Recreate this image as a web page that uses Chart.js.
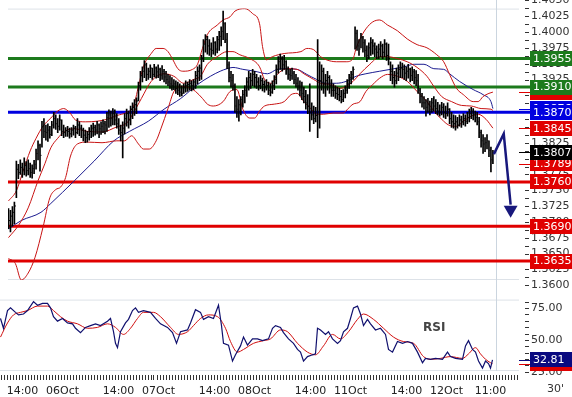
<!DOCTYPE html>
<html>
<head>
<meta charset="utf-8">
<script src="https://cdn.jsdelivr.net/npm/chart.js@4.4.1/dist/chart.umd.min.js"></script>
<style>
  body { margin: 0; background: #fff; }
  #wrap { position: relative; width: 572px; height: 397px; overflow: hidden; font-family: "DejaVu Sans", sans-serif; }
  canvas { position: absolute; left: 0; }
  #price-chart { top: 0; }
  #rsi-chart { top: 291px; }
  .note { position: absolute; color: #333; line-height: 12px; }
</style>
</head>
<body>
<div id="wrap">
  <canvas id="price-chart" width="572" height="291"></canvas>
  <canvas id="rsi-chart" width="572" height="106"></canvas>
  <div class="note" style="left:423px;top:321px;font-weight:bold;font-size:12px;color:#444">RSI</div>
  <div class="note" style="left:547px;top:383px;font-size:11px">30'</div>
</div>
<script>
// 30 minute bars, 05Oct 08:00 .. 12Oct 11:00 (bar index 0..246)
const barHigh = [
  1.3718, 1.3715, 1.3721, 1.3728, 1.3793, 1.3788, 1.3795, 1.3790, 1.3798, 1.3792,
  1.3795, 1.3790, 1.3787, 1.3794, 1.3812, 1.3825, 1.3820, 1.3856, 1.3860, 1.3850,
  1.3852, 1.3848, 1.3856, 1.3870, 1.3866, 1.3860, 1.3866, 1.3858, 1.3850, 1.3846,
  1.3848, 1.3845, 1.3846, 1.3850, 1.3848, 1.3860, 1.3855, 1.3850, 1.3845, 1.3842,
  1.3840, 1.3846, 1.3850, 1.3853, 1.3850, 1.3856, 1.3852, 1.3855, 1.3858, 1.3856,
  1.3870, 1.3874, 1.3872, 1.3876, 1.3874, 1.3868, 1.3860, 1.3850, 1.3855, 1.3868,
  1.3875, 1.3872, 1.3880, 1.3885, 1.3890, 1.3893, 1.3918, 1.3935, 1.3942, 1.3952,
  1.3948, 1.3940, 1.3945, 1.3940, 1.3946, 1.3942, 1.3945, 1.3940, 1.3944, 1.3938,
  1.3935, 1.3930, 1.3928, 1.3925, 1.3922, 1.3920, 1.3918, 1.3915, 1.3912, 1.3915,
  1.3920, 1.3918, 1.3922, 1.3920, 1.3922, 1.3935, 1.3942, 1.3945, 1.3960, 1.3985,
  1.3993, 1.3990, 1.3985, 1.3980, 1.3988, 1.3982, 1.3990, 1.3998, 1.4005, 1.4030,
  1.4012, 1.3995, 1.3950, 1.3935, 1.3930, 1.3915, 1.3895, 1.3890, 1.3895, 1.3905,
  1.3912, 1.3925, 1.3935, 1.3932, 1.3938, 1.3935, 1.3930, 1.3925, 1.3928, 1.3924,
  1.3920, 1.3922, 1.3918, 1.3915, 1.3920, 1.3928, 1.3945, 1.3958, 1.3962, 1.3958,
  1.3960, 1.3952, 1.3942, 1.3938, 1.3940, 1.3935, 1.3930, 1.3925, 1.3920, 1.3918,
  1.3910, 1.3905, 1.3898, 1.3915, 1.3885, 1.3880, 1.3878, 1.3985, 1.3950, 1.3945,
  1.3940, 1.3930, 1.3935, 1.3928, 1.3922, 1.3915, 1.3912, 1.3910, 1.3908, 1.3905,
  1.3906, 1.3912, 1.3922, 1.3930, 1.3935, 1.3942, 1.4005, 1.4000, 1.3985, 1.3995,
  1.3990, 1.3985, 1.3975, 1.3980, 1.3988, 1.3985, 1.3980, 1.3975, 1.3978, 1.3982,
  1.3978, 1.3985, 1.3980, 1.3978, 1.3950, 1.3945, 1.3935, 1.3940, 1.3945, 1.3950,
  1.3948, 1.3945, 1.3942, 1.3946, 1.3940, 1.3942, 1.3938, 1.3936, 1.3930, 1.3908,
  1.3900, 1.3895, 1.3890, 1.3892, 1.3888, 1.3892, 1.3895, 1.3890, 1.3886, 1.3882,
  1.3886, 1.3884, 1.3880, 1.3885, 1.3876, 1.3870, 1.3866, 1.3865, 1.3862, 1.3866,
  1.3864, 1.3868, 1.3866, 1.3870, 1.3875, 1.3878, 1.3876, 1.3872, 1.3870, 1.3862,
  1.3842, 1.3835, 1.3830, 1.3835, 1.3825, 1.3815, 1.3810
];
const barLow = [
  1.3686, 1.3681, 1.3690, 1.3694, 1.3735, 1.3765, 1.3772, 1.3767, 1.3771, 1.3769,
  1.3771, 1.3767, 1.3766, 1.3773, 1.3780, 1.3795, 1.3777, 1.3815, 1.3830, 1.3826,
  1.3824, 1.3829, 1.3833, 1.3845, 1.3843, 1.3838, 1.3842, 1.3833, 1.3830, 1.3832,
  1.3832, 1.3829, 1.3831, 1.3834, 1.3830, 1.3836, 1.3833, 1.3830, 1.3825, 1.3822,
  1.3823, 1.3826, 1.3830, 1.3832, 1.3834, 1.3836, 1.3830, 1.3835, 1.3838, 1.3836,
  1.3840, 1.3846, 1.3848, 1.3850, 1.3850, 1.3845, 1.3835, 1.3825, 1.3798, 1.3836,
  1.3848, 1.3845, 1.3850, 1.3860, 1.3865, 1.3868, 1.3888, 1.3905, 1.3918, 1.3925,
  1.3920, 1.3922, 1.3925, 1.3922, 1.3926, 1.3924, 1.3925, 1.3920, 1.3922, 1.3918,
  1.3915, 1.3912, 1.3908, 1.3905, 1.3906, 1.3900, 1.3898, 1.3895, 1.3896, 1.3900,
  1.3902, 1.3903, 1.3905, 1.3904, 1.3906, 1.3908, 1.3915, 1.3920, 1.3922, 1.3950,
  1.3965, 1.3962, 1.3960, 1.3958, 1.3962, 1.3960, 1.3964, 1.3968, 1.3975, 1.3985,
  1.3980, 1.3939, 1.3918, 1.3910, 1.3905, 1.3870, 1.3862, 1.3856, 1.3866, 1.3878,
  1.3885, 1.3895, 1.3905, 1.3908, 1.3912, 1.3910, 1.3908, 1.3905, 1.3907, 1.3904,
  1.3902, 1.3905, 1.3898, 1.3896, 1.3900, 1.3906, 1.3915, 1.3932, 1.3938, 1.3935,
  1.3938, 1.3930, 1.3922, 1.3920, 1.3922, 1.3915, 1.3910, 1.3905, 1.3896, 1.3890,
  1.3885, 1.3875, 1.3868, 1.3840, 1.3858, 1.3852, 1.3855, 1.3830, 1.3845, 1.3905,
  1.3900, 1.3895, 1.3905, 1.3900, 1.3895, 1.3895, 1.3892, 1.3890, 1.3888, 1.3885,
  1.3887, 1.3893, 1.3900, 1.3908, 1.3915, 1.3922, 1.3970, 1.3968, 1.3960, 1.3972,
  1.3965, 1.3958, 1.3950, 1.3955, 1.3960, 1.3962, 1.3958, 1.3955, 1.3955, 1.3958,
  1.3955, 1.3958, 1.3952, 1.3945, 1.3920, 1.3915, 1.3910, 1.3915, 1.3920, 1.3925,
  1.3925, 1.3922, 1.3920, 1.3924, 1.3918, 1.3920, 1.3915, 1.3912, 1.3900, 1.3885,
  1.3878, 1.3875, 1.3864, 1.3870, 1.3866, 1.3870, 1.3872, 1.3868, 1.3866, 1.3864,
  1.3866, 1.3862, 1.3860, 1.3864, 1.3852, 1.3846, 1.3845, 1.3842, 1.3845, 1.3848,
  1.3846, 1.3850, 1.3848, 1.3852, 1.3855, 1.3860, 1.3858, 1.3855, 1.3850, 1.3830,
  1.3815, 1.3805, 1.3808, 1.3812, 1.3800, 1.3776, 1.3789
];
const barClose = [
  1.3699, 1.3706, 1.3712, 1.3722, 1.3780, 1.3775, 1.3783, 1.3779, 1.3786, 1.3778,
  1.3781, 1.3775, 1.3781, 1.3788, 1.3805, 1.3818, 1.3802, 1.3848, 1.3840, 1.3838,
  1.3842, 1.3835, 1.3850, 1.3860, 1.3852, 1.3848, 1.3858, 1.3840, 1.3838, 1.3841,
  1.3840, 1.3836, 1.3842, 1.3845, 1.3838, 1.3850, 1.3845, 1.3842, 1.3834, 1.3830,
  1.3835, 1.3840, 1.3845, 1.3846, 1.3842, 1.3850, 1.3844, 1.3848, 1.3852, 1.3850,
  1.3862, 1.3866, 1.3860, 1.3868, 1.3858, 1.3852, 1.3842, 1.3838, 1.3845, 1.3860,
  1.3868, 1.3858, 1.3875, 1.3878, 1.3882, 1.3888, 1.3912, 1.3928, 1.3935, 1.3945,
  1.3930, 1.3935, 1.3940, 1.3930, 1.3940, 1.3934, 1.3938, 1.3928, 1.3935, 1.3926,
  1.3922, 1.3918, 1.3915, 1.3912, 1.3915, 1.3908, 1.3905, 1.3902, 1.3900, 1.3910,
  1.3912, 1.3914, 1.3916, 1.3912, 1.3918, 1.3928, 1.3935, 1.3940, 1.3955, 1.3978,
  1.3985, 1.3975, 1.3970, 1.3968, 1.3980, 1.3970, 1.3985, 1.3990, 1.3998, 1.4010,
  1.3985, 1.3945, 1.3925, 1.3920, 1.3912, 1.3880, 1.3875, 1.3882, 1.3890, 1.3898,
  1.3905, 1.3918, 1.3925, 1.3920, 1.3930, 1.3925, 1.3918, 1.3912, 1.3920, 1.3914,
  1.3910, 1.3912, 1.3905, 1.3902, 1.3912, 1.3922, 1.3938, 1.3950, 1.3955, 1.3945,
  1.3950, 1.3938, 1.3930, 1.3928, 1.3932, 1.3922, 1.3916, 1.3912, 1.3905, 1.3900,
  1.3895, 1.3885, 1.3880, 1.3870, 1.3866, 1.3860, 1.3865, 1.3920, 1.3920, 1.3935,
  1.3915, 1.3920, 1.3925, 1.3912, 1.3905, 1.3905, 1.3900, 1.3898, 1.3895, 1.3890,
  1.3900, 1.3905, 1.3915, 1.3925, 1.3930, 1.3938, 1.3995, 1.3975, 1.3970, 1.3988,
  1.3980, 1.3968, 1.3960, 1.3972, 1.3980, 1.3975, 1.3970, 1.3965, 1.3970, 1.3975,
  1.3965, 1.3978, 1.3960, 1.3955, 1.3935, 1.3925, 1.3920, 1.3932, 1.3938, 1.3940,
  1.3938, 1.3932, 1.3935, 1.3938, 1.3928, 1.3934, 1.3925, 1.3920, 1.3905, 1.3895,
  1.3885, 1.3885, 1.3878, 1.3882, 1.3875, 1.3885, 1.3880, 1.3876, 1.3872, 1.3870,
  1.3878, 1.3870, 1.3868, 1.3875, 1.3860, 1.3855, 1.3852, 1.3855, 1.3850, 1.3858,
  1.3855, 1.3860, 1.3856, 1.3862, 1.3868, 1.3872, 1.3866, 1.3862, 1.3855, 1.3838,
  1.3825, 1.3820, 1.3822, 1.3825, 1.3810, 1.3795, 1.3807
];

// Bollinger bands and moving average, read at the bars where they bend
const bbUpperBars = [0, 4, 7.5, 11, 14, 17.5, 21.5, 25, 28, 31, 34, 39, 45, 50, 55, 60, 63.5, 66, 68.5, 72.5,
  75, 78.5, 81, 83.5, 86, 88.5, 93.5, 96, 98.5, 101, 106, 109, 112.5, 115, 120, 124, 127.5, 129, 131, 134,
  140, 148.5, 151.5, 155, 158.5, 161.5, 166.5, 171.5, 175, 176.5, 178.5, 181.5, 185, 188.5, 192.5, 197.5, 202.5, 207.5, 212.5, 217.5,
  221, 224, 227.5, 231, 236, 238.5, 241, 244, 246];
const bbUpper = [1.3730, 1.3746, 1.3778, 1.3809, 1.3829, 1.3848, 1.3861, 1.3872, 1.3876, 1.3870, 1.3858, 1.3855, 1.3856, 1.3859, 1.3865, 1.3870, 1.3880, 1.3911, 1.3942, 1.3963,
  1.3971, 1.3971, 1.3966, 1.3953, 1.3939, 1.3935, 1.3938, 1.3946, 1.3971, 1.3993, 1.4008, 1.4016, 1.4021, 1.4030, 1.4034, 1.4026, 1.4010, 1.3974, 1.3953, 1.3958,
  1.3963, 1.3966, 1.3971, 1.3969, 1.3958, 1.3953, 1.3950, 1.3950, 1.3955, 1.3971, 1.3986, 1.4002, 1.4013, 1.4016, 1.4008, 1.3999, 1.3986, 1.3977, 1.3972, 1.3961,
  1.3950, 1.3930, 1.3908, 1.3898, 1.3887, 1.3887, 1.3895, 1.3900, 1.3902];

const bbMiddleBars = [0, 5, 10, 15, 18.5, 21.5, 25, 28.5, 33.5, 40, 47.5, 55, 60, 62.5, 67.5, 72.5, 79, 84, 89, 94,
  97.5, 101, 106, 111, 114, 117.5, 122.5, 127.5, 130, 133.5, 136.5, 141.5, 146.5, 150, 155, 158.5, 163.5, 168.5, 171.5, 175,
  178.5, 183.5, 188.5, 192.5, 197.5, 202.5, 207.5, 212.5, 216, 220, 225, 230, 235, 240, 245, 246];
const bbMiddle = [1.3672, 1.3691, 1.3719, 1.3762, 1.3789, 1.3814, 1.3829, 1.3840, 1.3844, 1.3840, 1.3839, 1.3847, 1.3853, 1.3864, 1.3892, 1.3919, 1.3931, 1.3927, 1.3916, 1.3922,
  1.3927, 1.3946, 1.3958, 1.3966, 1.3966, 1.3961, 1.3955, 1.3942, 1.3922, 1.3916, 1.3930, 1.3939, 1.3938, 1.3931, 1.3922, 1.3916, 1.3914, 1.3908, 1.3911, 1.3919,
  1.3931, 1.3946, 1.3958, 1.3958, 1.3955, 1.3950, 1.3941, 1.3927, 1.3911, 1.3895, 1.3887, 1.3881, 1.3880, 1.3876, 1.3875, 1.3873];

const bbLowerBars = [0, 3.5, 6.5, 10, 13.5, 17.5, 21, 24, 26.5, 29, 31.5, 35, 40, 47.5, 55, 59, 62.5, 66, 68.5, 71.5,
  75, 77.5, 81, 84, 87.5, 92.5, 95, 98.5, 101, 104, 109, 112.5, 116, 119, 122.5, 125, 127.5, 130, 135, 140,
  143.5, 146.5, 150, 153.5, 156.5, 160, 165, 170, 172.5, 175, 178.5, 181.5, 185, 188.5, 192.5, 197.5, 202.5, 207.5, 212.5, 216,
  220, 223.5, 227.5, 231, 235, 238.5, 242.5, 246];
const bbLower = [1.3639, 1.3631, 1.3605, 1.3616, 1.3641, 1.3688, 1.3735, 1.3748, 1.3752, 1.3767, 1.3801, 1.3820, 1.3823, 1.3822, 1.3825, 1.3825, 1.3833, 1.3820, 1.3812, 1.3812,
  1.3825, 1.3845, 1.3876, 1.3903, 1.3911, 1.3908, 1.3903, 1.3892, 1.3883, 1.3880, 1.3887, 1.3903, 1.3906, 1.3875, 1.3861, 1.3861, 1.3872, 1.3880, 1.3883, 1.3887,
  1.3898, 1.3900, 1.3887, 1.3876, 1.3867, 1.3867, 1.3869, 1.3869, 1.3876, 1.3883, 1.3887, 1.3903, 1.3914, 1.3924, 1.3930, 1.3927, 1.3919, 1.3903, 1.3887, 1.3872,
  1.3859, 1.3850, 1.3848, 1.3856, 1.3864, 1.3867, 1.3859, 1.3845];

const maBars = [0, 6.5, 16.5, 21.5, 33.5, 43.5, 53.5, 61.5, 71, 79, 87.5, 96, 102.5, 107.5, 111, 114, 119, 125, 131.5, 136.5,
  141.5, 146.5, 151.5, 156.5, 161.5, 166.5, 171.5, 176.5, 181.5, 188.5, 194, 201, 206, 211, 216, 221, 224, 229, 236, 241, 245, 246];
const maValues = [1.3686, 1.3699, 1.3712, 1.3726, 1.3762, 1.3793, 1.3825, 1.3840, 1.3856, 1.3875, 1.3892, 1.3914, 1.3927, 1.3935, 1.3939, 1.3941, 1.3938, 1.3935, 1.3931, 1.3938,
  1.3939, 1.3938, 1.3930, 1.3922, 1.3916, 1.3916, 1.3919, 1.3927, 1.3931, 1.3935, 1.3938, 1.3942, 1.3946, 1.3946, 1.3939, 1.3938, 1.3931, 1.3919, 1.3906, 1.3898, 1.3887, 1.3876];

// RSI and its average
const rsiBars = [0, 1.5, 3.5, 5, 7.5, 9, 11.5, 13.5, 16.5, 18.5, 21, 23.5, 25, 26.5, 28.5, 31, 33.5, 36, 37.5, 40,
  42.5, 45, 47.5, 50, 53.5, 55, 56.5, 57.5, 58.5, 60, 62.5, 64, 66, 67.5, 69, 71.5, 75, 77.5, 80, 83.5,
  86, 88, 90, 93.5, 95, 97.5, 100, 101.5, 104, 106.5, 109, 110.5, 111.5, 114, 116, 117.5, 120, 121.5, 123.5, 126,
  128.5, 131, 134, 136, 137.5, 140, 141.5, 144, 146.5, 148.5, 150, 151.5, 153.5, 156, 157.5, 158.5, 160, 162.5, 164, 166,
  168.5, 170, 171.5, 173.5, 175, 176.5, 178.5, 180, 181.5, 183.5, 185, 187.5, 190, 192.5, 194, 196, 198.5, 201, 203.5, 206,
  208.5, 211, 212.5, 215, 217.5, 221, 223.5, 225, 227.5, 231, 232.5, 234, 236, 237.5, 239, 241, 242.5, 244, 245, 246];
const rsiValues = [65.3, 57.6, 71.5, 73.6, 70.1, 68.1, 68.8, 71.5, 78.5, 75.7, 77.1, 77.1, 73.6, 66.7, 63.2, 65.3, 61.8, 61.1, 57.6, 54.2,
  58.3, 59.7, 61.1, 59.7, 63.2, 65.3, 54.9, 45.8, 42.4, 54.9, 61.8, 64.6, 71.5, 73.6, 70.1, 71.5, 70.1, 65.3, 61.1, 58.3,
  54.2, 45.8, 54.9, 56.3, 61.8, 72.2, 70.1, 64.6, 66.7, 65.3, 75.7, 59.7, 45.8, 44.4, 31.9, 36.8, 43.8, 50.7, 44.4, 49.3,
  49.3, 47.9, 49.3, 57.6, 59.7, 58.3, 54.2, 49.3, 45.8, 41.0, 38.9, 31.9, 35.4, 36.8, 37.5, 57.6, 56.3, 52.8, 54.9, 49.3,
  45.8, 47.9, 54.9, 57.6, 65.3, 73.6, 75.0, 68.8, 59.7, 64.6, 61.1, 56.3, 57.6, 52.8, 41.0, 38.9, 47.2, 45.8, 47.2, 45.8,
  38.9, 30.6, 34.0, 33.3, 34.0, 33.3, 38.9, 35.4, 34.0, 33.3, 43.8, 47.9, 41.0, 38.9, 31.9, 26.4, 31.9, 29.9, 26.4, 32.81];

const rsiAvgBars = [0, 3.5, 6.5, 10, 13.5, 18.5, 23.5, 26.5, 30, 33.5, 38.5, 43.5, 48.5, 53.5, 57.5, 61.5, 65, 68.5, 71.5, 76.5,
  80, 85, 89, 93.5, 96.5, 100, 104, 108.5, 112.5, 115, 118.5, 121.5, 126.5, 131.5, 135, 140, 143.5, 148.5, 153.5, 157.5,
  161.5, 166, 170, 174, 178.5, 181.5, 186.5, 191.5, 196.5, 201.5, 206.5, 211.5, 215, 220, 225, 231, 234, 237.5, 240, 242.5, 245, 246];
const rsiAvg = [50.7, 61.8, 68.1, 70.1, 71.5, 75.0, 75.0, 71.5, 66.7, 63.2, 61.1, 57.6, 58.3, 61.1, 58.3, 52.8, 57.6, 65.3, 70.1, 70.1,
  66.7, 58.3, 52.8, 54.9, 59.7, 65.3, 68.1, 66.7, 57.6, 47.2, 38.9, 41.0, 45.8, 47.9, 49.3, 56.3, 54.9, 45.8, 38.9, 36.8,
  43.8, 52.8, 49.3, 54.9, 64.6, 68.8, 64.6, 57.6, 50.7, 47.2, 45.8, 35.4, 33.3, 34.0, 35.4, 34.0, 37.5, 42.4, 37.5, 33.3, 30.6, 29.8];

// support / resistance levels and the value tags on the right
const levelValues = [1.3955, 1.3910, 1.3870, 1.3760, 1.3690, 1.3635];
const levelColors = ["#1c7a1c", "#1c7a1c", "#0000e0", "#e00000", "#e00000", "#e00000"];
const tagValues = [1.3902, 1.3876, 1.3845, 1.3789, 1.3807];
const tagColors = ["#e00000", "#0000e0", "#e00000", "#e00000", "#000000"];
const rsiTagValues = [29.80, 32.81];
const rsiTagColors = ["#e00000", "#0a0a80"];

// forecast arrow
const arrowBars = [246.5, 251.5, 255];
const arrowPrices = [1.3804, 1.3836, 1.3724];
const arrowHead = { bar: 255, price: 1.3716 };

const timeLabels = ["14:00", "06Oct", "14:00", "07Oct", "14:00", "08Oct", "14:00", "11Oct", "14:00", "12Oct", "11:00"];
const timeLabelBars = [12, 32, 60, 80, 108, 128, 156, 176, 204, 224, 246];
const cursorBar = 247.5;

const xMin = -0.25, xMax = 259.25;
const priceMin = 1.3605, priceMax = 1.4034;
const rsiMin = 24.1, rsiMax = 80.1;

Chart.defaults.font.family = '"DejaVu Sans", sans-serif';
Chart.defaults.font.size = 11;
Chart.defaults.color = "#333";

const pts = (xs, ys) => xs.map((x, i) => ({ x: x, y: ys[i] }));

const priceTicks = [];
for (let k = 0; k <= 36; k++) priceTicks.push(1.36 + k * 0.00125);
const rsiTicks = [];
for (let v = 25; v <= 80; v += 5) rsiTicks.push(v);
const minorBarTicks = [];
for (let b = 0; b <= 258; b += 1.5) minorBarTicks.push(b);

const labelShift = 2;

function drawFrame(chart, cursorBottom) {
  const { ctx, chartArea: a } = chart;
  ctx.save();
  ctx.lineWidth = 1;
  ctx.strokeStyle = "#dde2e8";
  ctx.beginPath();
  ctx.moveTo(a.left, a.top + 0.5);
  ctx.lineTo(a.right, a.top + 0.5);
  ctx.moveTo(a.left, a.bottom - 0.5);
  ctx.lineTo(a.right, a.bottom - 0.5);
  ctx.stroke();
  const cx = Math.round(chart.scales.x.getPixelForValue(cursorBar)) + 0.5;
  ctx.strokeStyle = "#cbd5df";
  ctx.beginPath();
  ctx.moveTo(cx, 0);
  ctx.lineTo(cx, cursorBottom);
  ctx.stroke();
  ctx.restore();
}

// small dashes left of the right-hand labels
function drawAxisDashes(chart, values) {
  const { ctx, chartArea: a } = chart;
  ctx.save();
  ctx.strokeStyle = "#333";
  ctx.lineWidth = 1;
  ctx.beginPath();
  values.forEach(v => {
    const y = Math.round(chart.scales.y.getPixelForValue(v) + labelShift) + 0.5;
    ctx.moveTo(a.right + 6, y);
    ctx.lineTo(a.right + 10, y);
  });
  ctx.stroke();
  ctx.restore();
}

function drawTag(chart, value, color, text) {
  const { ctx, chartArea: a } = chart;
  const y = chart.scales.y.getPixelForValue(value);
  const boxLeft = a.right + 11;
  ctx.save();
  ctx.fillStyle = color;
  ctx.fillRect(a.right, Math.round(y), 11, 1);
  ctx.fillRect(boxLeft, Math.round(y - 7.5), chart.width - boxLeft, 15);
  ctx.fillStyle = "#fff";
  ctx.font = '11px "DejaVu Sans"';
  ctx.textBaseline = "middle";
  ctx.fillText(text, boxLeft + 3, y + 0.5);
  ctx.restore();
}

const pricePlugin = {
  id: "priceDecor",
  beforeDatasetsDraw(chart) {
    drawFrame(chart, chart.height);
    drawAxisDashes(chart, priceTicks);
    const { ctx, chartArea: a } = chart;
    ctx.save();
    ctx.lineWidth = 3;
    levelValues.forEach((v, k) => {
      const y = chart.scales.y.getPixelForValue(v);
      ctx.strokeStyle = levelColors[k];
      ctx.beginPath();
      ctx.moveTo(a.left, y);
      ctx.lineTo(a.right + 11, y);
      ctx.stroke();
    });
    ctx.restore();
  },
  afterDraw(chart) {
    tagValues.forEach((v, k) => drawTag(chart, v, tagColors[k], v.toFixed(4)));
    levelValues.forEach((v, k) => drawTag(chart, v, levelColors[k], v.toFixed(4)));
  }
};

const rsiPlugin = {
  id: "rsiDecor",
  beforeDatasetsDraw(chart) {
    drawFrame(chart, chart.chartArea.bottom);
    drawAxisDashes(chart, rsiTicks);
    const { ctx, chartArea: a } = chart;
    ctx.save();
    ctx.strokeStyle = "#333";
    ctx.lineWidth = 1;
    ctx.beginPath();
    minorBarTicks.forEach(b => {
      const x = Math.round(chart.scales.x.getPixelForValue(b)) + 0.5;
      ctx.moveTo(x, a.bottom + 4);
      ctx.lineTo(x, a.bottom + 9);
    });
    ctx.stroke();
    ctx.restore();
  },
  afterDraw(chart) {
    rsiTagValues.forEach((v, k) => drawTag(chart, v, rsiTagColors[k], v.toFixed(2)));
  }
};

// tick marks are left transparent: their length only sets the label gap
const rightAxis = (min, max, tickList, label) => ({
  position: "right",
  min: min,
  max: max,
  afterFit: s => { s.width = 53; },
  afterBuildTicks: s => { s.ticks = tickList.map(v => ({ value: v })); },
  border: { display: false },
  grid: { drawOnChartArea: false, drawTicks: true, tickLength: 10, tickColor: "rgba(0,0,0,0)" },
  ticks: { autoSkip: false, padding: 2, labelOffset: labelShift, color: "#333", callback: label }
});

new Chart(document.getElementById("price-chart"), {
  type: "line",
  data: {
    datasets: [
      {
        data: [{ x: arrowHead.bar, y: arrowHead.price }],
        showLine: false,
        pointStyle: "triangle",
        pointRotation: 180,
        pointRadius: 8,
        pointBackgroundColor: "#18187c",
        pointBorderWidth: 0
      },
      {
        data: pts(arrowBars, arrowPrices),
        borderColor: "#18187c",
        borderWidth: 2.5,
        pointRadius: 0
      },
      {
        // close tick on the right of each bar
        data: barClose.map((c, i) => ({ x: i + 0.5, y: c })),
        showLine: false,
        pointStyle: "line",
        pointRadius: 0.5,
        pointBorderColor: "#000",
        pointBorderWidth: 1
      },
      {
        type: "bar",
        data: barHigh.map((h, i) => ({ x: i, y: [barLow[i], h] })),
        backgroundColor: "#000",
        borderWidth: 0,
        barThickness: 1
      },
      { data: pts(bbUpperBars, bbUpper), borderColor: "#c81414", borderWidth: 1, pointRadius: 0, cubicInterpolationMode: "monotone" },
      { data: pts(bbMiddleBars, bbMiddle), borderColor: "#c81414", borderWidth: 1, pointRadius: 0, cubicInterpolationMode: "monotone" },
      { data: pts(bbLowerBars, bbLower), borderColor: "#c81414", borderWidth: 1, pointRadius: 0, cubicInterpolationMode: "monotone" },
      { data: pts(maBars, maValues), borderColor: "#1c1c90", borderWidth: 1, pointRadius: 0, cubicInterpolationMode: "monotone" }
    ]
  },
  options: {
    responsive: false,
    devicePixelRatio: 1,
    animation: false,
    events: [],
    layout: { padding: { top: 7, bottom: 11, left: 0, right: 0 } },
    plugins: { legend: { display: false }, tooltip: { enabled: false } },
    scales: {
      x: { type: "linear", min: xMin, max: xMax, offset: false, display: false },
      y: rightAxis(priceMin, priceMax, priceTicks,
        v => (Math.round(v * 10000) % 25 === 0 ? v.toFixed(4) : ""))
    }
  },
  plugins: [pricePlugin]
});

new Chart(document.getElementById("rsi-chart"), {
  type: "line",
  data: {
    datasets: [
      { data: pts(rsiBars, rsiValues), borderColor: "#10106e", borderWidth: 1.2, pointRadius: 0, tension: 0 },
      { data: pts(rsiAvgBars, rsiAvg), borderColor: "#d01010", borderWidth: 1, pointRadius: 0, cubicInterpolationMode: "monotone" }
    ]
  },
  options: {
    responsive: false,
    devicePixelRatio: 1,
    animation: false,
    events: [],
    layout: { padding: 0 },
    plugins: { legend: { display: false }, tooltip: { enabled: false } },
    scales: {
      x: {
        type: "linear", position: "bottom", min: xMin, max: xMax, offset: false,
        afterFit: s => { s.height = 26; },
        afterBuildTicks: s => { s.ticks = timeLabelBars.map(v => ({ value: v })); },
        border: { display: false },
        grid: { drawOnChartArea: false, drawTicks: true, tickLength: 12, tickColor: "rgba(0,0,0,0)" },
        ticks: { autoSkip: false, maxRotation: 0, padding: 2, labelOffset: -2, color: "#222",
          callback: (v, i) => timeLabels[i] }
      },
      y: rightAxis(rsiMin, rsiMax, rsiTicks, v => (v % 25 === 0 ? v.toFixed(2) : ""))
    }
  },
  plugins: [rsiPlugin]
});
</script>
</body>
</html>
